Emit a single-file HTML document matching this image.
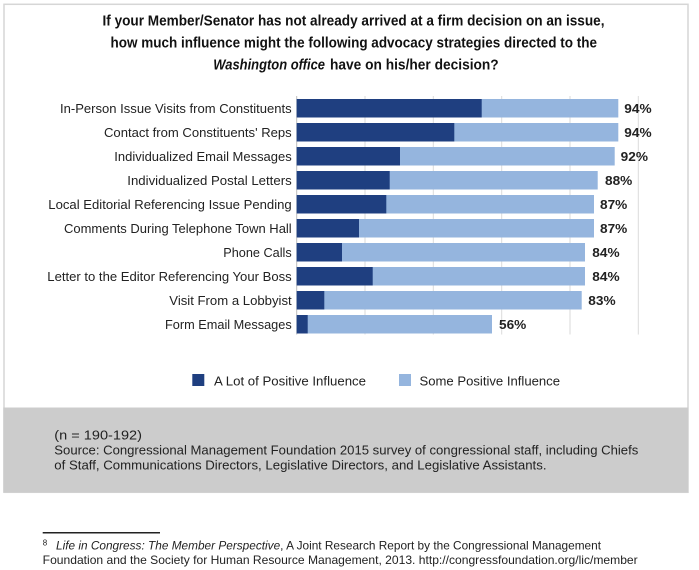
<!DOCTYPE html>
<html>
<head>
<meta charset="utf-8">
<style>
  html,body{margin:0;padding:0;background:#fff;}
  svg{display:block;}
  text{font-family:"Liberation Sans",Arial,sans-serif;}
</style>
</head>
<body>
<svg width="699" height="570" viewBox="0 0 699 570" xmlns="http://www.w3.org/2000/svg">
  <!-- outer frame -->
  <rect x="4" y="4.3" width="684" height="488" fill="#fff" stroke="#d6d6d6" stroke-width="1.5"/>
  <!-- gray source box -->
  <rect x="3.3" y="407.5" width="685" height="85" fill="#cccccc"/>

  <!-- title -->
  <g font-weight="bold" font-size="15" fill="#111">
    <text x="102.5" y="25.5" textLength="502" lengthAdjust="spacingAndGlyphs">If your Member/Senator has not already arrived at a firm decision on an issue,</text>
    <text x="110.5" y="47.5" textLength="486.5" lengthAdjust="spacingAndGlyphs">how much influence might the following advocacy strategies directed to the</text>
    <text x="213.3" y="69.5" font-style="italic" textLength="111.7" lengthAdjust="spacingAndGlyphs">Washington office</text>
    <text x="330" y="69.5" textLength="168.7" lengthAdjust="spacingAndGlyphs">have on his/her decision?</text>
  </g>

  <!-- gridlines -->
  <g stroke="#dadada" stroke-width="1">
    <line x1="365" y1="96" x2="365" y2="334.5"/>
    <line x1="433.3" y1="96" x2="433.3" y2="334.5"/>
    <line x1="501.7" y1="96" x2="501.7" y2="334.5"/>
    <line x1="570" y1="96" x2="570" y2="334.5"/>
    <line x1="638.3" y1="96" x2="638.3" y2="334.5"/>
  </g>
  <line x1="296.7" y1="96" x2="296.7" y2="334.5" stroke="#bdbdbd" stroke-width="1"/>

  <!-- bars -->
  <g>
    <rect x="296.7" y="99" width="321.6" height="18.5" fill="#95b5de"/>
    <rect x="296.7" y="99" width="185" height="18.5" fill="#1f3f80"/>

    <rect x="296.7" y="123" width="321.6" height="18.5" fill="#95b5de"/>
    <rect x="296.7" y="123" width="157.6" height="18.5" fill="#1f3f80"/>

    <rect x="296.7" y="147" width="318" height="18.5" fill="#95b5de"/>
    <rect x="296.7" y="147" width="103.3" height="18.5" fill="#1f3f80"/>

    <rect x="296.7" y="171" width="301" height="18.5" fill="#95b5de"/>
    <rect x="296.7" y="171" width="93" height="18.5" fill="#1f3f80"/>

    <rect x="296.7" y="195" width="297.3" height="18.5" fill="#95b5de"/>
    <rect x="296.7" y="195" width="89.6" height="18.5" fill="#1f3f80"/>

    <rect x="296.7" y="219" width="297.3" height="18.5" fill="#95b5de"/>
    <rect x="296.7" y="219" width="62.3" height="18.5" fill="#1f3f80"/>

    <rect x="296.7" y="243" width="288.3" height="18.5" fill="#95b5de"/>
    <rect x="296.7" y="243" width="45.3" height="18.5" fill="#1f3f80"/>

    <rect x="296.7" y="267" width="288.3" height="18.5" fill="#95b5de"/>
    <rect x="296.7" y="267" width="76" height="18.5" fill="#1f3f80"/>

    <rect x="296.7" y="291" width="285" height="18.5" fill="#95b5de"/>
    <rect x="296.7" y="291" width="27.6" height="18.5" fill="#1f3f80"/>

    <rect x="296.7" y="315" width="195.3" height="18.5" fill="#95b5de"/>
    <rect x="296.7" y="315" width="11" height="18.5" fill="#1f3f80"/>
  </g>

  <!-- category labels -->
  <g font-size="13" fill="#222">
    <text x="60" y="112.8" textLength="231.7" lengthAdjust="spacingAndGlyphs">In-Person Issue Visits from Constituents</text>
    <text x="104" y="136.8" textLength="187.7" lengthAdjust="spacingAndGlyphs">Contact from Constituents' Reps</text>
    <text x="114.3" y="160.8" textLength="177.4" lengthAdjust="spacingAndGlyphs">Individualized Email Messages</text>
    <text x="127.3" y="184.8" textLength="164.4" lengthAdjust="spacingAndGlyphs">Individualized Postal Letters</text>
    <text x="48.3" y="208.8" textLength="243.4" lengthAdjust="spacingAndGlyphs">Local Editorial Referencing Issue Pending</text>
    <text x="64" y="232.8" textLength="227.7" lengthAdjust="spacingAndGlyphs">Comments During Telephone Town Hall</text>
    <text x="223.3" y="256.8" textLength="68.4" lengthAdjust="spacingAndGlyphs">Phone Calls</text>
    <text x="47.3" y="280.8" textLength="244.4" lengthAdjust="spacingAndGlyphs">Letter to the Editor Referencing Your Boss</text>
    <text x="169.3" y="304.8" textLength="122.4" lengthAdjust="spacingAndGlyphs">Visit From a Lobbyist</text>
    <text x="165" y="328.8" textLength="126.7" lengthAdjust="spacingAndGlyphs">Form Email Messages</text>
  </g>

  <!-- value labels -->
  <g font-size="13" font-weight="bold" fill="#222">
    <text x="624.3" y="112.8" textLength="27.3" lengthAdjust="spacingAndGlyphs">94%</text>
    <text x="624.3" y="136.8" textLength="27.3" lengthAdjust="spacingAndGlyphs">94%</text>
    <text x="620.7" y="160.8" textLength="27.3" lengthAdjust="spacingAndGlyphs">92%</text>
    <text x="605" y="184.8" textLength="27.3" lengthAdjust="spacingAndGlyphs">88%</text>
    <text x="600" y="208.8" textLength="27.3" lengthAdjust="spacingAndGlyphs">87%</text>
    <text x="600" y="232.8" textLength="27.3" lengthAdjust="spacingAndGlyphs">87%</text>
    <text x="592.3" y="256.8" textLength="27.3" lengthAdjust="spacingAndGlyphs">84%</text>
    <text x="592.3" y="280.8" textLength="27.3" lengthAdjust="spacingAndGlyphs">84%</text>
    <text x="588.3" y="304.8" textLength="27.3" lengthAdjust="spacingAndGlyphs">83%</text>
    <text x="499" y="328.8" textLength="27.3" lengthAdjust="spacingAndGlyphs">56%</text>
  </g>

  <!-- legend -->
  <rect x="192.3" y="374" width="12" height="12" fill="#1f3f80"/>
  <text x="214" y="385.3" font-size="13" fill="#222" textLength="152" lengthAdjust="spacingAndGlyphs">A Lot of Positive Influence</text>
  <rect x="399" y="374" width="12" height="12" fill="#95b5de"/>
  <text x="419.5" y="385.3" font-size="13" fill="#222" textLength="140.5" lengthAdjust="spacingAndGlyphs">Some Positive Influence</text>

  <!-- source text -->
  <g font-size="13" fill="#222">
    <text x="54.3" y="439.5" textLength="87.7" lengthAdjust="spacingAndGlyphs">(n = 190-192)</text>
    <text x="54.3" y="454.5" textLength="584" lengthAdjust="spacingAndGlyphs">Source: Congressional Management Foundation 2015 survey of congressional staff, including Chiefs</text>
    <text x="54.3" y="469.5" textLength="492.2" lengthAdjust="spacingAndGlyphs">of Staff, Communications Directors, Legislative Directors, and Legislative Assistants.</text>
  </g>

  <!-- footnote -->
  <line x1="42.7" y1="532.7" x2="160" y2="532.7" stroke="#222" stroke-width="1.5"/>
  <text x="42.7" y="545.5" font-size="8" fill="#222">8</text>
  <text x="56" y="549.5" font-size="12" fill="#222" textLength="545" lengthAdjust="spacingAndGlyphs"><tspan font-style="italic">Life in Congress: The Member Perspective</tspan>, A Joint Research Report by the Congressional Management</text>
  <text x="42.7" y="564" font-size="12" fill="#222" textLength="595" lengthAdjust="spacingAndGlyphs">Foundation and the Society for Human Resource Management, 2013. http://congressfoundation.org/lic/member</text>
</svg>
</body>
</html>
